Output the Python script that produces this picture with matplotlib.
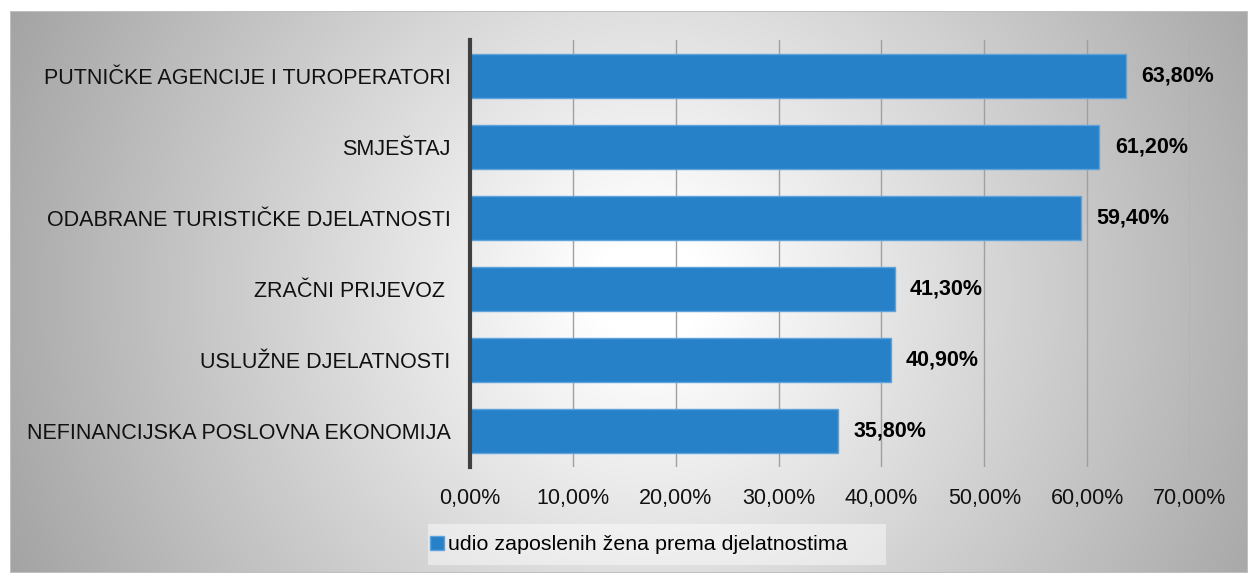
import numpy as np
import matplotlib
matplotlib.use("Agg")
import matplotlib.pyplot as plt
from matplotlib.ticker import FuncFormatter, MultipleLocator
from matplotlib.patches import Rectangle

plt.rcParams['font.family'] = ['Liberation Sans', 'DejaVu Sans']

categories = [
    "PUTNIČKE AGENCIJE I TUROPERATORI",
    "SMJEŠTAJ",
    "ODABRANE TURISTIČKE DJELATNOSTI",
    "ZRAČNI PRIJEVOZ ",
    "USLUŽNE DJELATNOSTI",
    "NEFINANCIJSKA POSLOVNA EKONOMIJA",
]
values = [63.8, 61.2, 59.4, 41.3, 40.9, 35.8]
series_name = "udio zaposlenih žena prema djelatnostima"

W, H = 1248, 573
fig = plt.figure(figsize=(W / 100, H / 100), dpi=100)
fig.patch.set_facecolor("white")

# background radial gradient panel
bx0, by1 = 10, 11
bg = fig.add_axes([bx0 / W, 0, 1 - bx0 / W, 1 - by1 / H], zorder=0)
ny, nx = 300, 600
yy, xx = np.mgrid[0:ny, 0:nx]
px = bx0 + xx / (nx - 1) * (W - bx0)
py = by1 + yy / (ny - 1) * (H - by1)
d = np.hypot(px - 650, py - 290) / 700.0
v = 1 - 0.36 * np.clip((d - 0.08) / 0.92, 0, 1.1)
bg.imshow(np.dstack([v, v, v]), aspect="auto", extent=[0, 1, 0, 1], origin="upper")
bg.set_xlim(0, 1)
bg.set_ylim(0, 1)
bg.axis("off")
bg.add_patch(Rectangle((0, 0), 1, 1, transform=bg.transAxes, fill=False,
                       edgecolor="#c0c0c0", lw=1.5))

# legend background box
fig.patches.append(Rectangle((428 / W, 1 - 565 / H), (886 - 428) / W, (565 - 524) / H,
                             transform=fig.transFigure, facecolor="white", alpha=0.45,
                             edgecolor="none", zorder=1))

ax = fig.add_axes([470 / W, 1 - 467 / H, (1190 - 470) / W, (467 - 40) / H], zorder=1)
ax.patch.set_alpha(0)
y = np.arange(len(categories))
bars = ax.barh(y, values, height=0.62, color="#2681c8", edgecolor="#5ea3dc",
               linewidth=1, label=series_name, zorder=2)
ax.set_ylim(len(categories) - 0.5, -0.5)
ax.set_xlim(0, 70)
ax.set_yticks(y)
ax.set_yticklabels(categories, fontsize=15.5, color="#111111")
ax.xaxis.set_major_locator(MultipleLocator(10))
ax.xaxis.set_major_formatter(FuncFormatter(lambda v, p: f"{v:.2f}%".replace(".", ",")))
ax.tick_params(axis="x", length=0, pad=15, labelsize=15.5, labelcolor="#111111")
ax.tick_params(axis="y", length=0, pad=14)
ax.grid(axis="x", color="#a0a0a0", lw=1, zorder=1)
ax.set_axisbelow(True)
for s in ["top", "right", "bottom"]:
    ax.spines[s].set_visible(False)
ax.spines["left"].set_color("#404040")
ax.spines["left"].set_linewidth(3)
ax.spines["left"].set_zorder(3)

for b, val in zip(bars, values):
    ax.annotate(f"{val:.2f}%".replace(".", ","), (val, b.get_y() + b.get_height() / 2),
                xytext=(11, 0), textcoords="offset points", va="center", ha="left",
                fontsize=15.5, fontweight="bold", color="#000000")

leg = fig.legend(handles=[bars], labels=[series_name], loc="center left",
                 bbox_to_anchor=(430 / W, 1 - 545 / H), fontsize=15.4,
                 frameon=False, handlelength=0.65, handleheight=0.65,
                 handletextpad=0.2, borderpad=0.0, borderaxespad=0.0)

fig.savefig("out.png", dpi=100)
